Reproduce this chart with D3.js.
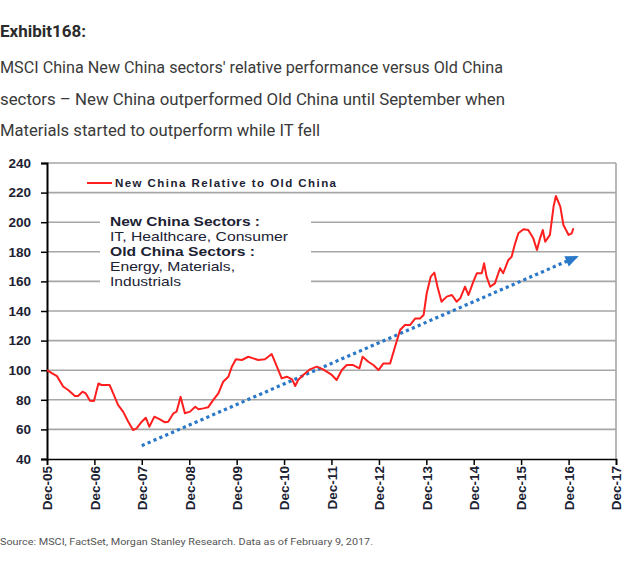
<!DOCTYPE html>
<html><head><meta charset="utf-8">
<script src="https://cdn.jsdelivr.net/npm/d3@7"></script>
<style>
html,body{margin:0;padding:0;background:#fff;}
svg{display:block;}
</style></head>
<body>
<script>
// ---- data ----
const dates = ["2005-12-01","2006-01-07","2006-02-16","2006-04-04","2006-05-13","2006-07-04","2006-07-28","2006-09-01","2006-09-25","2006-10-28","2006-11-28",
"2007-01-01","2007-01-25","2007-03-28","2007-04-25","2007-06-01","2007-07-10","2007-08-19","2007-09-25","2007-10-22","2007-12-01",
"2008-01-01","2008-01-28","2008-03-07","2008-04-19","2008-05-28","2008-06-22","2008-08-01","2008-08-25","2008-09-25","2008-10-28","2008-12-07",
"2009-01-16","2009-02-10","2009-03-19","2009-04-25","2009-06-04","2009-07-13","2009-08-19","2009-09-28","2009-10-25","2009-11-25",
"2010-01-10","2010-03-01","2010-04-07","2010-05-16","2010-07-07","2010-08-28","2010-10-07","2010-11-13","2010-12-22",
"2011-02-01","2011-02-25","2011-03-19","2011-04-28","2011-06-19","2011-08-10","2011-09-28","2011-12-04",
"2012-01-10","2012-02-19","2012-03-28","2012-05-16","2012-07-04","2012-07-28","2012-09-10","2012-10-19","2012-11-28",
"2013-01-04","2013-02-25","2013-04-04","2013-05-13","2013-06-19","2013-07-28","2013-09-07","2013-10-13","2013-11-10","2013-12-04",
"2014-01-04","2014-02-01","2014-02-25","2014-03-28","2014-05-07","2014-06-16","2014-07-22","2014-08-19","2014-09-25","2014-10-22","2014-11-28","2014-12-25",
"2015-02-01","2015-02-19","2015-03-10","2015-04-07","2015-05-13","2015-06-22","2015-07-16","2015-08-25","2015-09-19","2015-10-16","2015-11-10","2015-12-19",
"2016-01-25","2016-03-04","2016-04-01","2016-04-25","2016-05-16","2016-06-04","2016-07-10","2016-08-07","2016-08-25","2016-09-28","2016-10-22","2016-12-01","2016-12-25",
"2017-01-07"];
const values = [100,98,96,89,86.6,82.6,82.6,85.5,84.4,79.4,79.2,
91,90,90,84.4,76.5,72,65.2,59.6,60.7,65.2,
67.9,61.8,68.6,66.8,64.8,65.2,70.9,72,82,70.9,72,
75.3,73.6,74.2,74.9,79.9,84.4,92.2,95.6,102.4,107.4,
106.9,109.1,108,106.9,107.4,110.9,102.4,94.5,95.6,
93.8,89.3,93.4,96.8,100.6,102.4,100.6,96.8,
93.4,100.1,103.5,103.5,101.3,109.1,105.7,103.5,100.1,
104.6,104.6,115.9,127.2,130.5,130.5,135,135,137.3,152,
163.2,165.9,156.4,146.3,149.7,150.8,146.3,148.6,156.4,150.8,159.8,165.5,
165.5,172.2,163.2,156.4,158.7,168.9,165.5,174.5,176.7,185.7,192.5,195.2,
194.7,189.1,181.2,189.1,194.7,186.8,191.4,210.5,217.7,210.5,198.1,191.4,192.5,
195.9];
const trendDates = ["2007-12-01","2017-02-01"];
const trendValues = [49, 176.5];
const yTicks = [40,60,80,100,120,140,160,180,200,220,240];
const xTickYears = [2005,2006,2007,2008,2009,2010,2011,2012,2013,2014,2015,2016,2017];
const seriesName = "New China Relative to Old China";
const noteBold1 = "New China Sectors :";
const noteText1 = "IT, Healthcare, Consumer";
const noteBold2 = "Old China Sectors :";
const noteText2a = "Energy, Materials,";
const noteText2b = "Industrials";
const exhibit = "Exhibit168:";
const titleLines = ["MSCI China New China sectors' relative performance versus Old China",
"sectors \u2013 New China outperformed Old China until September when",
"Materials started to outperform while IT fell"];
const source = "Source: MSCI, FactSet, Morgan Stanley Research. Data as of February 9, 2017.";

// ---- drawing ----
const W = 640, H = 565;
const svg = d3.select("body").append("svg").attr("width", W).attr("height", H);
const parse = d3.timeParse("%Y-%m-%d");
const L = 47, R = 616, T = 163, B = 459;
const x = d3.scaleTime().domain([new Date(2005,11,1), new Date(2017,11,1)]).range([L, R]);
const y = d3.scaleLinear().domain([40,240]).range([B, T]);

// title
svg.append("text").attr("x",0).attr("y",37).text(exhibit)
  .attr("font-family","Roboto, 'Liberation Sans Narrow', sans-serif").attr("font-weight","bold")
  .attr("font-size",17).attr("fill","#2b2b2b").attr("textLength",86).attr("lengthAdjust","spacingAndGlyphs");
const tl = [503,505,320];
titleLines.forEach((t,i)=>{
  svg.append("text").attr("x",0).attr("y",73+i*31.5).text(t)
    .attr("font-family","Roboto, sans-serif").attr("font-size",17).attr("fill","#3a3a3a")
    .attr("textLength",tl[i]).attr("lengthAdjust","spacingAndGlyphs");
});

// gridlines
const grid = svg.append("g");
grid.selectAll("line").data(yTicks.filter(v=>v>40)).join("line")
  .attr("x1",L).attr("x2",R).attr("y1",d=>y(d)).attr("y2",d=>y(d))
  .attr("stroke","#a6a6a6").attr("stroke-width",1.6);
// right border
svg.append("line").attr("x1",R).attr("x2",R).attr("y1",T).attr("y2",B)
  .attr("stroke","#a6a6a6").attr("stroke-width",1.6);

// white box behind the note
svg.append("rect").attr("x",100).attr("y",204).attr("width",211).attr("height",87).attr("fill","#fff");

// y axis
const yAxis = d3.axisLeft(y).tickValues(yTicks).tickSize(6).tickFormat(d3.format("d"));
const gy = svg.append("g").attr("transform",`translate(${L},0)`).call(yAxis);
gy.select(".domain").attr("stroke","#000").attr("stroke-width",2);
gy.selectAll(".tick line").attr("stroke","#000").attr("stroke-width",1.5);
gy.selectAll(".tick text").attr("x",-16).attr("font-family","'Liberation Sans', Arial, sans-serif")
  .attr("font-weight","bold").attr("font-size",13.5).attr("fill","#1c2233");

// x axis
const xAxis = d3.axisBottom(x).tickValues(xTickYears.map(yy=>new Date(yy,11,1)))
  .tickSize(6).tickFormat(d3.timeFormat("Dec-%y"));
const gx = svg.append("g").attr("transform",`translate(0,${B})`).call(xAxis);
gx.select(".domain").attr("stroke","#000").attr("stroke-width",1.6);
gx.selectAll(".tick line").attr("stroke","#000").attr("stroke-width",1.5);
gx.selectAll(".tick text").attr("transform","rotate(-90)").attr("text-anchor","end")
  .attr("x",-7).attr("y",0).attr("dy","0.35em")
  .attr("font-family","'Liberation Sans', Arial, sans-serif").attr("font-weight","bold")
  .attr("font-size",13.5).attr("fill","#1c2233");

// trend arrow
const defs = svg.append("defs");
defs.append("marker").attr("id","arr").attr("markerUnits","userSpaceOnUse")
  .attr("viewBox","0 0 12 10").attr("refX",10).attr("refY",5)
  .attr("markerWidth",14).attr("markerHeight",11).attr("orient","auto")
  .append("path").attr("d","M0,0L12,5L0,10Z").attr("fill","#2a78c8");
const trend = trendDates.map((d,i)=>({d:parse(d), v:trendValues[i]}));
svg.append("path").datum(trend)
  .attr("d", d3.line().x(d=>x(d.d)).y(d=>y(d.v)))
  .attr("fill","none").attr("stroke","#2a78c8").attr("stroke-width",3.2)
  .attr("stroke-dasharray","3.2,3.2").attr("marker-end","url(#arr)");

// series line
const data = dates.map((d,i)=>({d:parse(d), v:values[i]}));
svg.append("path").datum(data)
  .attr("d", d3.line().x(d=>x(d.d)).y(d=>y(d.v)))
  .attr("fill","none").attr("stroke","#ff1f1f").attr("stroke-width",2).attr("stroke-linejoin","round");

// legend
svg.append("line").attr("x1",87).attr("x2",112).attr("y1",183).attr("y2",183)
  .attr("stroke","#ff1f1f").attr("stroke-width",2);
svg.append("text").attr("x",115).attr("y",187).text(seriesName)
  .attr("font-family","'Liberation Sans', Arial, sans-serif").attr("font-weight","bold")
  .attr("font-size",11.5).attr("fill","#1c2233").attr("textLength",221).attr("lengthAdjust","spacing");

// note
const notes = [[noteBold1,true,226,150],[noteText1,false,241,178],[noteBold2,true,256,145],[noteText2a,false,271,125],[noteText2b,false,286,71]];
notes.forEach(n=>{
  svg.append("text").attr("x",110).attr("y",n[2]).text(n[0])
    .attr("font-family","'Liberation Sans', Arial, sans-serif").attr("font-weight",n[1]?"bold":"normal")
    .attr("font-size",13).attr("fill","#1c2233").attr("textLength",n[3]).attr("lengthAdjust","spacingAndGlyphs");
});

// source
svg.append("text").attr("x",0).attr("y",545).text(source)
  .attr("font-family","Roboto, sans-serif").attr("font-size",9.5).attr("fill","#555")
  .attr("textLength",373).attr("lengthAdjust","spacingAndGlyphs");
</script>
</body></html>
